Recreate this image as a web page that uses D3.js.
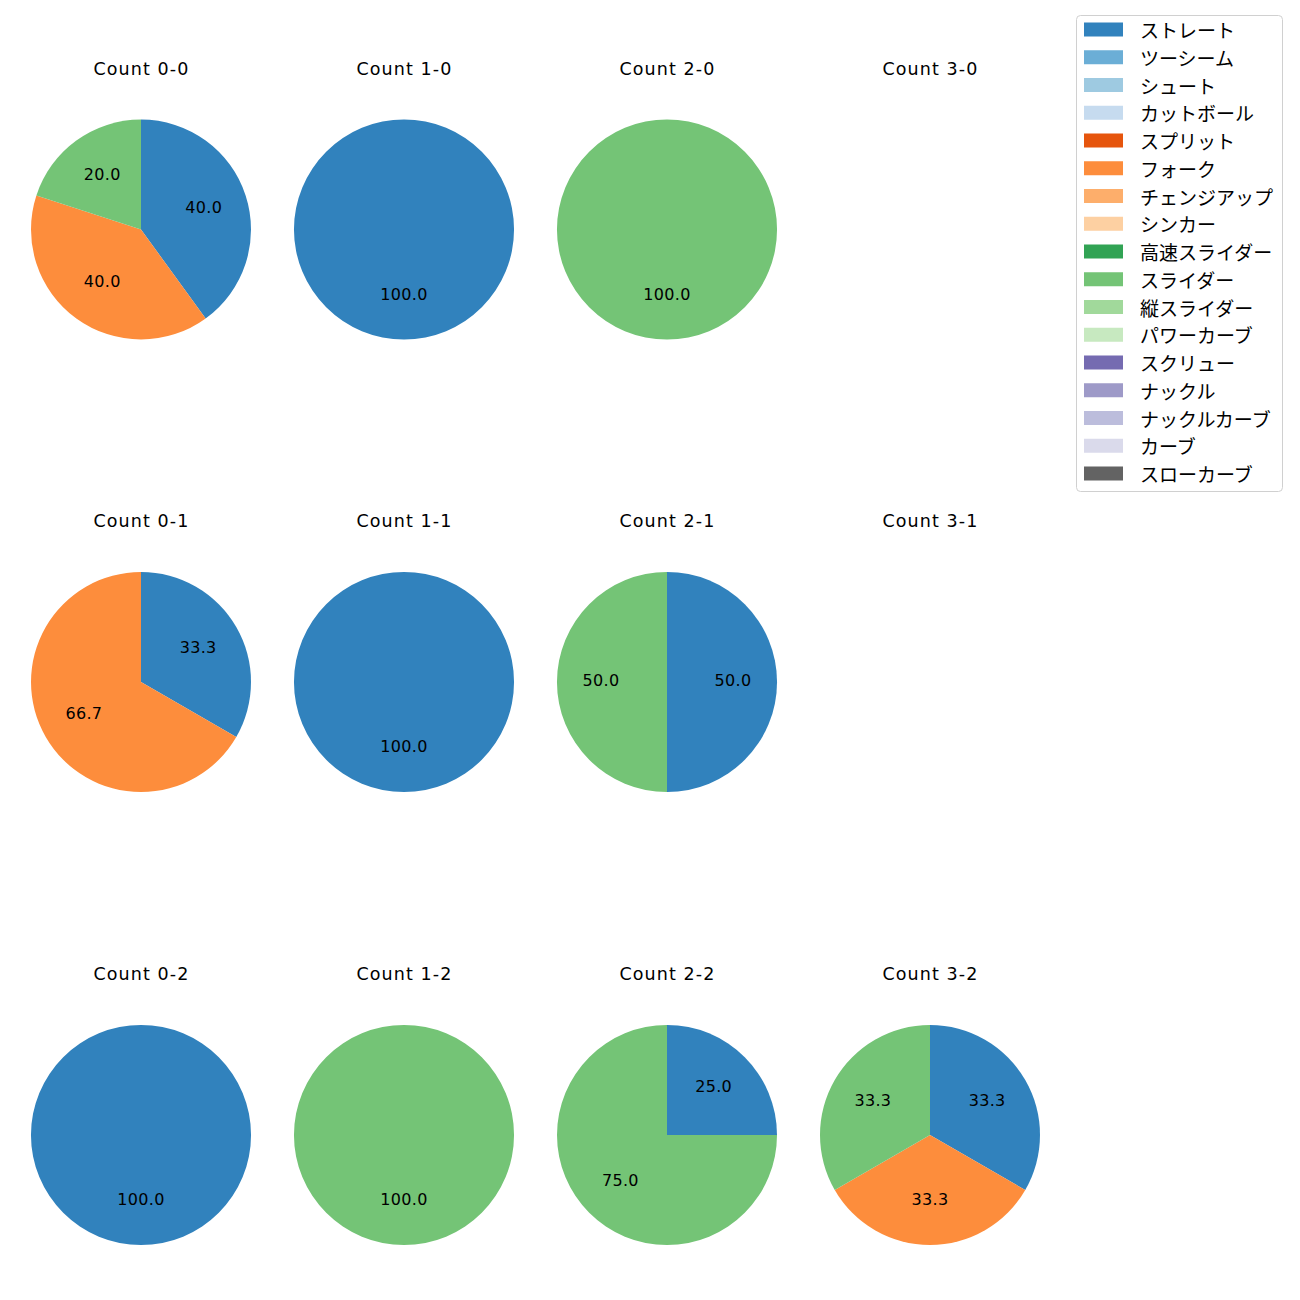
<!DOCTYPE html>
<html><head><meta charset="utf-8">
<script src="https://cdn.jsdelivr.net/npm/d3@7"></script>
<style>body{margin:0;background:#fff}svg{display:block}text{fill:#000}</style>
</head><body>
<script>
const pitchTypes = ["ストレート","ツーシーム","シュート","カットボール","スプリット","フォーク","チェンジアップ","シンカー","高速スライダー","スライダー","縦スライダー","パワーカーブ","スクリュー","ナックル","ナックルカーブ","カーブ","スローカーブ"];
const pitchColors = ["#3182bd","#6baed6","#9ecae1","#c6dbef","#e6550d","#fd8d3c","#fdae6b","#fdd0a2","#31a354","#74c476","#a1d99b","#c7e9c0","#756bb1","#9e9ac8","#bcbddc","#dadaeb","#636363"];
// panel titles (row-major: balls-strikes)
const panelTitles = ["Count 0-0","Count 1-0","Count 2-0","Count 3-0","Count 0-1","Count 1-1","Count 2-1","Count 3-1","Count 0-2","Count 1-2","Count 2-2","Count 3-2"];
// pitch counts per panel: [ストレート, フォーク, スライダー]
const panelStraight = [2,1,0,0, 1,1,1,0, 1,0,1,1];
const panelFork     = [2,0,0,0, 2,0,0,0, 0,0,0,1];
const panelSlider   = [1,0,1,0, 0,0,1,0, 0,1,3,1];

const W=1300,H=1300;
const latin='"DejaVu Sans","Noto Sans",sans-serif';
const jp='"Noto Sans CJK JP","Noto Sans",sans-serif';
const svg=d3.select("body").append("svg").attr("width",W).attr("height",H);
const colX=d3.scaleOrdinal().domain([0,1,2,3]).range([141,404,667,930]);
const rowY=d3.scaleOrdinal().domain([0,1,2]).range([229.5,682,1135]);
const R=110;
const color=d3.scaleOrdinal().domain(pitchTypes).range(pitchColors);
const pie=d3.pie().value(d=>d.v).sort(null);
const arc=d3.arc().innerRadius(0).outerRadius(R);
const labelArc=d3.arc().innerRadius(R*0.6).outerRadius(R*0.6);

panelTitles.forEach((t,i)=>{
  const c=i%4, r=Math.floor(i/4);
  const g=svg.append("g").attr("transform",`translate(${colX(c)},${rowY(r)})`);
  g.append("text").attr("x",0.5).attr("y",-161).attr("text-anchor","middle").attr("dominant-baseline","central")
    .style("font-family",latin).style("font-size","17.5px").style("letter-spacing","1.1px").text(t);
  const vals=pitchTypes.map((p,k)=>({p,v:0}));
  vals[0].v=panelStraight[i]; vals[5].v=panelFork[i]; vals[9].v=panelSlider[i];
  const data=vals.filter(d=>d.v>0);
  const total=d3.sum(data,d=>d.v);
  if(!total) return;
  const arcs=pie(data);
  g.selectAll("path").data(arcs).join("path").attr("d",arc).attr("fill",d=>color(d.data.p));
  g.selectAll("text.lbl").data(arcs).join("text").attr("class","lbl")
    .attr("transform",d=>{
      if(data.length===1) return `translate(0,${R*0.6-1.5})`;
      const [x,y]=labelArc.centroid(d);return `translate(${x},${y-1.5})`;})
    .attr("text-anchor","middle").attr("dominant-baseline","central")
    .style("font-family",latin).style("font-size","16px").style("letter-spacing","0.3px")
    .text(d=>(d.data.v/total*100).toFixed(1));
});

// legend
const lg=svg.append("g");
lg.append("rect").attr("x",1076.5).attr("y",15.5).attr("width",206).attr("height",476).attr("rx",4)
  .attr("fill","#fff").attr("stroke","#d0d0d0");
const ly=d3.scaleLinear().domain([0,16]).range([29.5,473.5]);
pitchTypes.forEach((p,i)=>{
  lg.append("rect").attr("x",1084).attr("y",ly(i)-7).attr("width",39).attr("height",14).attr("fill",color(p));
  lg.append("text").attr("x",1140).attr("y",ly(i)).attr("dominant-baseline","central")
    .style("font-family",jp).style("font-size","19px").text(p);
});
</script>
</body></html>
